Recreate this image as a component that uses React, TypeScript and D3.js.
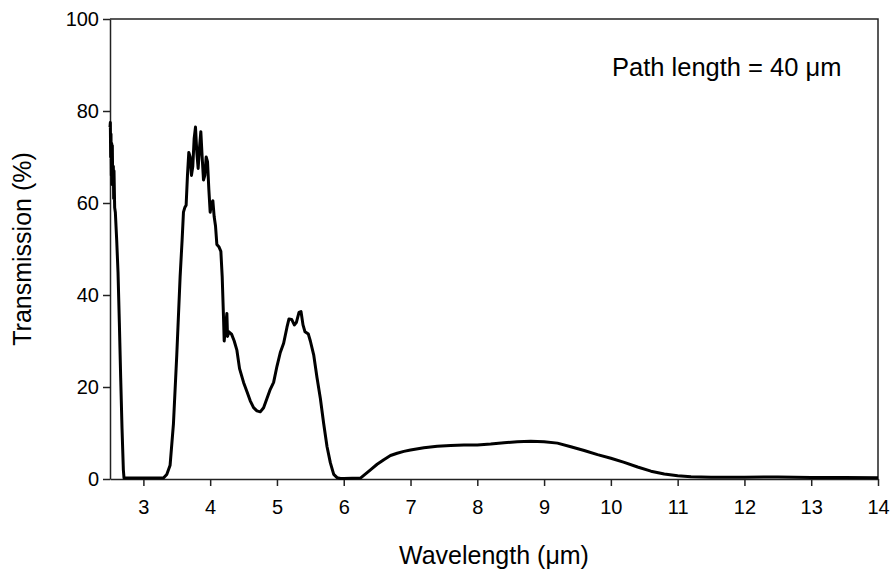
import React, { useEffect, useRef } from "react";
import * as d3 from "d3";

// IR transmission spectrum, path length 40 um

const wavelength = [
  2.5, 2.505, 2.51, 2.515, 2.52, 2.525, 2.53, 2.535, 2.54, 2.55, 2.555, 2.56, 2.57, 2.58,
  2.6, 2.62, 2.64, 2.66, 2.68, 2.7, 2.71, 3.0, 3.3, 3.35, 3.4, 3.45, 3.5, 3.55, 3.58,
  3.6, 3.62, 3.64, 3.66, 3.68, 3.7, 3.72, 3.74, 3.76, 3.78, 3.8, 3.82, 3.84, 3.86,
  3.88, 3.9, 3.92, 3.94, 3.96, 3.98, 4.0, 4.02, 4.04, 4.06, 4.08, 4.1, 4.13, 4.16,
  4.18, 4.2, 4.21, 4.23, 4.25, 4.26, 4.28, 4.32, 4.36, 4.4, 4.44, 4.5, 4.55, 4.6,
  4.65, 4.7, 4.75, 4.8, 4.85, 4.9, 4.95, 5.0, 5.05, 5.1, 5.15, 5.18, 5.22, 5.26,
  5.29, 5.33, 5.36, 5.39, 5.42, 5.47, 5.5, 5.55, 5.6, 5.65, 5.7, 5.75, 5.8, 5.85,
  5.9, 5.95, 6.0, 6.25, 6.3, 6.4, 6.5, 6.6, 6.7, 6.8, 6.9, 7.0, 7.2, 7.4, 7.6, 7.8,
  8.0, 8.2, 8.4, 8.6, 8.8, 9.0, 9.2, 9.4, 9.6, 9.8, 10.0, 10.2, 10.4, 10.6, 10.8,
  11.0, 11.2, 11.5, 12.0, 12.5, 13.0, 13.5, 14.0,
];

const transmission = [
  76.5, 77.5, 70, 75, 66, 73, 64, 72.5, 65, 68, 61, 67, 59, 58,
  52, 45, 34, 22, 11, 2, 0.2, 0.2, 0.2, 1, 3, 12, 27, 44, 52,
  58, 59, 59.5, 66, 71, 70, 66, 68, 74, 76.5, 71, 67.5, 72, 75.5,
  70, 65, 66, 70, 69, 63, 58, 60, 60.5, 57, 55, 51, 50.5, 49.5,
  44, 35, 30, 33, 36, 31, 32, 31.5, 30, 28, 24, 21, 19, 17,
  15.5, 14.8, 14.6, 15.5, 17.5, 19.5, 21, 24.5, 27.5, 29.5, 33, 34.8, 34.7, 33.5,
  34, 36.2, 36.4, 33.5, 32, 31.5, 30, 27, 22, 17.5, 12, 7, 3.5, 1,
  0.3, 0.1, 0.1, 0.2, 0.8, 2, 3.2, 4.2, 5.1, 5.6, 6, 6.3, 6.8, 7.1, 7.3, 7.4,
  7.4, 7.6, 7.9, 8.1, 8.2, 8.1, 7.8, 7, 6.2, 5.3, 4.5, 3.6, 2.6, 1.7, 1.1,
  0.7, 0.5, 0.4, 0.4, 0.45, 0.35, 0.3, 0.25,
];

const xTicks = [3, 4, 5, 6, 7, 8, 9, 10, 11, 12, 13, 14];
const yTicks = [0, 20, 40, 60, 80, 100];

const App = () => {
  const svgRef = useRef<SVGSVGElement>(null);

  useEffect(() => {
    const width = 893;
    const height = 571;
    const margin = { top: 19, right: 15, bottom: 92, left: 110 };
    const font = "Arial, 'Liberation Sans', sans-serif";

    const svg = d3.select(svgRef.current);
    svg.selectAll("*").remove();

    const x = d3.scaleLinear().domain([2.5, 14]).range([margin.left, width - margin.right]);
    const y = d3.scaleLinear().domain([0, 100]).range([height - margin.bottom, margin.top]);

    // frame (top and right)
    svg.append("path")
      .attr("d", `M${x(2.5)},${y(100)}H${x(14)}V${y(0)}`)
      .attr("fill", "none")
      .attr("stroke", "#222")
      .attr("stroke-width", 1.5);

    const xAxis = svg.append("g")
      .attr("transform", `translate(0,${y(0)})`)
      .call(d3.axisBottom(x).tickValues(xTicks).tickSize(7).tickSizeOuter(0).tickPadding(14));

    const yAxis = svg.append("g")
      .attr("transform", `translate(${x(2.5)},0)`)
      .call(d3.axisLeft(y).tickValues(yTicks).tickSize(7).tickSizeOuter(0).tickPadding(4));

    [xAxis, yAxis].forEach(g => {
      g.selectAll("path, line").attr("stroke", "#222").attr("stroke-width", 1.5);
      g.selectAll("text").attr("font-family", font).attr("font-size", 20).attr("fill", "#000");
    });

    const line = d3.line<number>()
      .x((_, i) => x(wavelength[i]))
      .y(d => y(d));

    svg.append("path")
      .datum(transmission)
      .attr("d", line)
      .attr("fill", "none")
      .attr("stroke", "#000")
      .attr("stroke-width", 3)
      .attr("stroke-linejoin", "round");

    svg.append("text")
      .attr("x", (margin.left + width - margin.right) / 2)
      .attr("y", 564)
      .attr("text-anchor", "middle")
      .attr("font-family", font)
      .attr("font-size", 25)
      .text("Wavelength (\u03bcm)");

    svg.append("text")
      .attr("transform", `translate(31,${(y(0) + y(100)) / 2}) rotate(-90)`)
      .attr("text-anchor", "middle")
      .attr("font-family", font)
      .attr("font-size", 25)
      .text("Transmission (%)");

    svg.append("text")
      .attr("x", 612)
      .attr("y", 76)
      .attr("font-family", font)
      .attr("font-size", 25.5)
      .text("Path length = 40 \u03bcm");
  }, []);

  return (
    <svg
      ref={svgRef}
      width={893}
      height={571}
      style={{ position: "absolute", left: 0, top: 0, background: "#fff" }}
    ></svg>
  );
};

export default App;
